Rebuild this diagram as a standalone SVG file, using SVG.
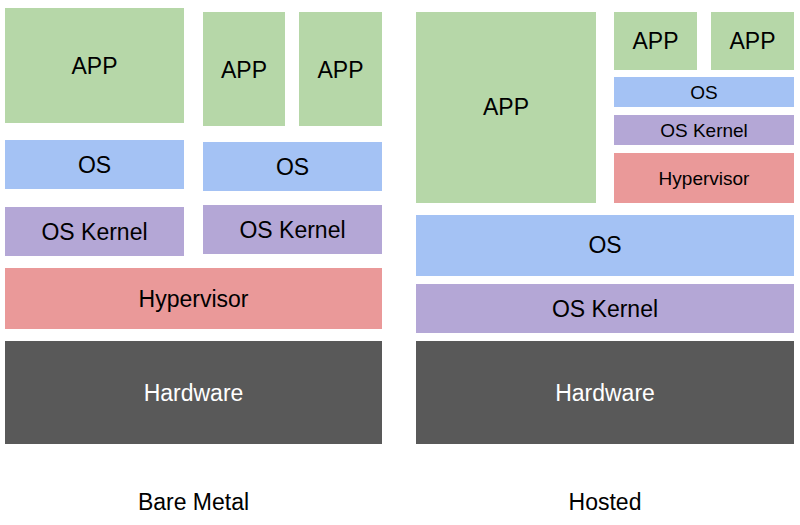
<svg xmlns="http://www.w3.org/2000/svg" width="800" height="525" viewBox="0 0 800 525">
<style>
text{font-family:"Liberation Sans",Arial,sans-serif;text-anchor:middle;dominant-baseline:central;fill:#000}
.g{fill:#b6d7a8}.b{fill:#a4c2f4}.p{fill:#b4a7d6}.r{fill:#ea9999}.h{fill:#595959}
.L{font-size:23px}.S{font-size:19px}.w{fill:#fff}
</style>
<rect width="800" height="525" fill="#fff"/>
<g id="left">
<g id="l-app1"><rect class="g" x="5" y="8" width="179" height="115"/><text class="L" x="94.5" y="66">APP</text></g>
<g id="l-app2"><rect class="g" x="203" y="12" width="82" height="114"/><text class="L" x="244" y="70">APP</text></g>
<g id="l-app3"><rect class="g" x="299" y="12" width="83" height="114"/><text class="L" x="340.5" y="70">APP</text></g>
<g id="l-os1"><rect class="b" x="5" y="140" width="179" height="49"/><text class="L" x="94.5" y="165">OS</text></g>
<g id="l-os2"><rect class="b" x="203" y="142" width="179" height="49"/><text class="L" x="292.5" y="167">OS</text></g>
<g id="l-k1"><rect class="p" x="5" y="207" width="179" height="49"/><text class="L" x="94.5" y="232">OS Kernel</text></g>
<g id="l-k2"><rect class="p" x="203" y="205" width="179" height="49"/><text class="L" x="292.5" y="230">OS Kernel</text></g>
<g id="l-hyp"><rect class="r" x="5" y="268" width="377" height="61"/><text class="L" x="193.5" y="299">Hypervisor</text></g>
<g id="l-hw"><rect class="h" x="5" y="341" width="377" height="103"/><text class="L w" x="193.5" y="393">Hardware</text></g>
<text class="L" x="193.5" y="502">Bare Metal</text>
</g>
<g id="right">
<g id="r-app1"><rect class="g" x="416" y="12" width="180" height="191"/><text class="L" x="506" y="107">APP</text></g>
<g id="r-app2"><rect class="g" x="614" y="12" width="83" height="58"/><text class="L" x="655.5" y="41">APP</text></g>
<g id="r-app3"><rect class="g" x="711" y="12" width="83" height="58"/><text class="L" x="752.5" y="41">APP</text></g>
<g id="r-os-g"><rect class="b" x="614" y="77" width="180" height="30"/><text class="S" x="704" y="92">OS</text></g>
<g id="r-k-g"><rect class="p" x="614" y="115" width="180" height="30"/><text class="S" x="704" y="130">OS Kernel</text></g>
<g id="r-hyp"><rect class="r" x="614" y="153" width="180" height="50"/><text class="S" x="704" y="178">Hypervisor</text></g>
<g id="r-os"><rect class="b" x="416" y="215" width="378" height="61"/><text class="L" x="605" y="245">OS</text></g>
<g id="r-k"><rect class="p" x="416" y="284" width="378" height="49"/><text class="L" x="605" y="309">OS Kernel</text></g>
<g id="r-hw"><rect class="h" x="416" y="341" width="378" height="103"/><text class="L w" x="605" y="393">Hardware</text></g>
<text class="L" x="605" y="502">Hosted</text>
</g>
<g id="connectors"/>
</svg>
